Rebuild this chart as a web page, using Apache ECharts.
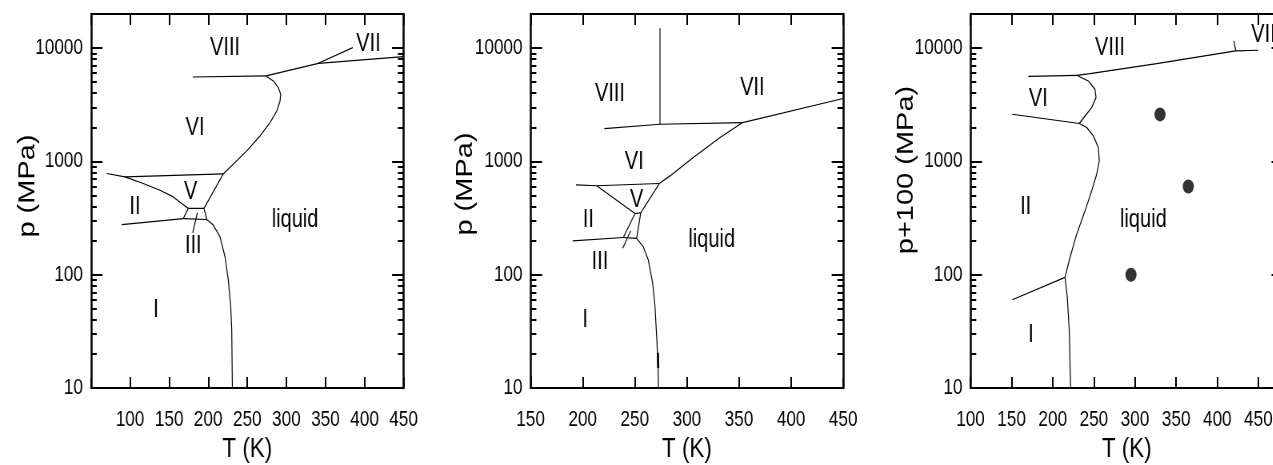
<!DOCTYPE html>
<html>
<head>
<meta charset="utf-8">
<script src="https://cdn.jsdelivr.net/npm/echarts@6/dist/echarts.min.js"></script>
<style>
html,body{margin:0;padding:0;background:#fff;width:1273px;height:465px;overflow:hidden}
#wrap{width:1273px;height:465px;overflow:hidden;position:relative;background:#fff}
#c{width:1591px;height:465px;transform:scaleX(0.8);transform-origin:0 0;position:absolute;left:0;top:0}
</style>
</head>
<body>
<div id="wrap"><div id="c"></div></div>
<script>
// ---------- tick labels ----------
const p1_xTicks = [100,150,200,250,300,350,400,450];
const p2_xTicks = [150,200,250,300,350,400,450];
const p3_xTicks = [100,150,200,250,300,350,400,450];
const yMajor = [10,100,1000,10000];
const yMinor = [20,30,40,50,60,70,80,90,200,300,400,500,600,700,800,900,2000,3000,4000,5000,6000,7000,8000,9000];

// ---------- panel 1 : phase boundaries [T (K), p (MPa)] ----------
const p1_I_liquid   = [[198.1,307],[206.5,274],[215.1,216],[221.5,144],[225.7,89.6],[228.8,52.1],[230.1,32.4],[230.9,10]];
const p1_II_I       = [[89.3,277],[168.1,313]];
const p1_I_III      = [[168.1,313],[198.1,307]];
const p1_II_III     = [[174.5,385],[168.1,313]];
const p1_III_V      = [[174.5,385],[194.6,385]];
const p1_III_liquid = [[194.6,385],[198.1,307]];
const p1_V_liquid   = [[194.6,385],[219.3,775]];
const p1_II_V       = [[93.5,730],[116.9,638],[138.3,557],[155.3,486],[166.1,425],[174.5,385]];
const p1_II_VI      = [[70.1,782],[93.5,730]];
const p1_V_VI       = [[93.5,730],[219.3,775]];
const p1_VI_liquid  = [[219.3,775],[249.3,1238],[266.3,1678],[279.1,2203],[287.7,2786],[291.9,3420],[292.8,3917],[289.7,4487],[283.3,5130],[274,5680]];
const p1_VI_VIII    = [[180.2,5560],[274,5680]];
const p1_VIII_liquid= [[274,5680],[340.9,7345]];
const p1_VII_VIII   = [[340.9,7345],[385,10100]];
const p1_VII_liquid = [[340.9,7345],[450,8410]];
const p1_III_pointer= [[186.1,352],[180.2,234]];
const p1_labels = [[221.5,9900,'VIII'],[405,10740,'VII'],[183.1,1950,'VI'],[177.6,538,'V'],[106.3,397,'II'],[180.9,179,'III'],[311.1,303,'liquid'],[133.2,48.7,'I']];

// ---------- panel 2 ----------
const p2_VII_VIII   = [[274.2,14960],[274.2,2128]];
const p2_VI_VIII    = [[220.7,1950],[274.2,2128]];
const p2_VI_VII     = [[274.2,2128],[353.5,2203]];
const p2_VII_liquid = [[353.5,2203],[450,3590]];
const p2_VI_liquid  = [[353.5,2203],[331.8,1625],[306.1,1081],[283.8,745],[273.5,638]];
const p2_V_VI       = [[213.4,610],[273.5,638]];
const p2_II_VI      = [[193.6,621],[213.4,610]];
const p2_II_V       = [[213.4,610],[250.2,347]];
const p2_V_liquid   = [[273.5,638],[255.7,352]];
const p2_V_III      = [[250.2,347],[255.7,352]];
const p2_III_liquid = [[255.7,352],[251.8,209]];
const p2_II_III     = [[250.2,347],[239,213]];
const p2_II_I       = [[190.4,199],[239,213]];
const p2_I_III      = [[239,213],[251.8,209]];
const p2_III_pointer= [[246.1,244],[238.4,171]];
const p2_I_liquid   = [[251.8,209],[258.2,176],[263,134.5],[267.2,83.8],[269.4,52.1],[271,28.3],[271.6,21.6],[272.6,12.6],[272.6,10]];
const p2_I_liquid_thick = [[272.2,20.5],[272.5,15]];
const p2_labels = [[226.2,3890,'VIII'],[362.8,4400,'VII'],[249.5,977,'VI'],[251.8,455,'V'],[205.4,303,'II'],[216.6,130,'III'],[323.8,202,'liquid'],[202.4,39.8,'I']];

// ---------- panel 3 : [T (K), p+100 (MPa)] ----------
const p3_I_II       = [[150.8,60.1],[214.9,94.6]];
const p3_I_liquid   = [[214.9,94.6],[217.7,63],[220.1,32],[221,16.3],[221.8,10]];
const p3_II_liquid  = [[214.9,94.6],[221,142],[229.1,228],[239.2,366],[247.3,549],[253.4,771],[256.6,1010],[255.4,1327],[249.3,1679],[241.3,1991],[232.3,2160]];
const p3_II_VI      = [[150.8,2606],[232.3,2160]];
const p3_VI_liquid  = [[232.3,2160],[239.2,2518],[247.3,2985],[252.6,3656],[251.3,4332],[243.2,5130],[229.1,5754]];
const p3_VI_VIII    = [[170.3,5637],[229.1,5754]];
const p3_VIII_liquid= [[229.1,5754],[245.3,5957],[326.4,7295],[422.4,9445]];
const p3_VII_liquid = [[422.4,9445],[449.9,9570]];
const p3_VII_VIII   = [[422.4,9445],[420.3,11560]];
const p3_points     = [[295.1,100],[330.4,2600],[364.8,600]];
const p3_labels = [[269.6,10000,'VIII'],[456.2,13150,'VII'],[182.4,3516,'VI'],[167.1,397,'II'],[310.1,303,'liquid'],[173.5,29.3,'I']];

// ---------- layout ----------
const S = 0.8;                      // horizontal squeeze of the picture
const FONT = "'Liberation Sans', Arial, Helvetica, sans-serif";
const gridLeft = [91/S, 530.6/S, 970.5/S];
const gridW = 312.6/S;
const xMin = [50,150,100], xMax = [450,450,480];
const xTicks = [p1_xTicks, p2_xTicks, p3_xTicks];
const yNames = ['p (MPa)','p (MPa)','p+100 (MPa)'];
const yNameGap = [64,67,66];
const yNameShift = [30,34,62];

const panelLines = [
  [p1_I_liquid,p1_II_I,p1_I_III,p1_II_III,p1_III_V,p1_III_liquid,p1_V_liquid,p1_II_V,p1_II_VI,p1_V_VI,p1_VI_liquid,p1_VI_VIII,p1_VIII_liquid,p1_VII_VIII,p1_VII_liquid,p1_III_pointer],
  [p2_VII_VIII,p2_VI_VIII,p2_VI_VII,p2_VII_liquid,p2_VI_liquid,p2_V_VI,p2_II_VI,p2_II_V,p2_V_liquid,p2_V_III,p2_III_liquid,p2_II_III,p2_II_I,p2_I_III,p2_III_pointer,p2_I_liquid],
  [p3_I_II,p3_I_liquid,p3_II_liquid,p3_II_VI,p3_VI_liquid,p3_VI_VIII,p3_VIII_liquid,p3_VII_liquid,p3_VII_VIII]
];
const panelLabels = [p1_labels,p2_labels,p3_labels];

function xAxisOpt(i, pos){
  const labelSet = new Set(xTicks[i]);
  return {gridIndex:i, type:'value', position:pos, min:xMin[i], max:xMax[i], interval:50,
    splitLine:{show:false},
    axisLine:{show:true, onZero:false, lineStyle:{color:'#000', width:2}},
    axisTick:{show:true, inside:true, length:11, lineStyle:{color:'#000', width:2}},
    axisLabel:{show:pos==='bottom', color:'#000', fontSize:21.5, fontFamily:FONT, margin:21,
      formatter:v => labelSet.has(v) ? String(v) : ''},
    name: pos==='bottom' ? 'T (K)' : '', nameLocation:'middle', nameGap:47, nameMoveOverlap:false,
    nameTextStyle:{color:'#000', fontSize:28, fontFamily:FONT}};
}
function yAxisOpt(i, pos, isMinor){
  const o = {gridIndex:i, type:'log', logBase:10, min:10, max:20000, position:pos, splitLine:{show:false}};
  if (isMinor){
    o.axisLine = {show:false};
    o.axisTick = {show:true, inside:true, length:7.2, customValues:yMinor, lineStyle:{color:'#000', width:2}};
    o.axisLabel = {show:false};
  } else {
    o.axisLine = {show:true, onZero:false, lineStyle:{color:'#000', width:2.5}};
    o.axisTick = {show:true, inside:true, length:14.4, lineStyle:{color:'#000', width:2}};
    o.axisLabel = {show:pos==='left', customValues:yMajor, color:'#000', fontSize:21.5, fontFamily:FONT, margin:10,
      formatter:v => String(Math.round(v))};
    if (pos==='left'){
      o.name = yNames[i]; o.nameLocation = 'middle'; o.nameGap = yNameGap[i]; o.nameMoveOverlap = false;
      o.nameTextStyle = {color:'#000', fontSize:29, fontFamily:FONT, padding:[0,0,0,yNameShift[i]]};
    }
  }
  return o;
}

const grids=[], xAxes=[], yAxes=[], series=[];
for (let i=0;i<3;i++){
  grids.push({left:gridLeft[i], top:14, width:gridW, height:374, containLabel:false, outerBoundsMode:'none'});
  xAxes.push(xAxisOpt(i,'bottom'));
  xAxes.push(xAxisOpt(i,'top'));
  yAxes.push(yAxisOpt(i,'left',false));
  yAxes.push(yAxisOpt(i,'left',true));
  yAxes.push(yAxisOpt(i,'right',false));
  yAxes.push(yAxisOpt(i,'right',true));

  panelLines[i].forEach(d => series.push({type:'line', xAxisIndex:2*i, yAxisIndex:4*i, data:d,
    showSymbol:false, symbol:'none', silent:true, lineStyle:{color:'#000', width:1.2}}));
  const labs = panelLabels[i];
  series.push({type:'custom', xAxisIndex:2*i, yAxisIndex:4*i, silent:true, clip:false,
    data:labs.map(l => [l[0], l[1]]),
    renderItem:(params, api) => {
      const pt = api.coord([api.value(0), api.value(1)]);
      return {type:'text', x:pt[0], y:pt[1],
        style:{text:labs[params.dataIndex][2], fill:'#000', fontSize:25, fontFamily:FONT,
               align:'center', verticalAlign:'middle'}};
    }, z:5});
}
series.push({type:'line', xAxisIndex:2, yAxisIndex:4, data:p2_I_liquid_thick, showSymbol:false, symbol:'none',
  silent:true, lineStyle:{color:'#000', width:2.6}});
series.push({type:'scatter', xAxisIndex:4, yAxisIndex:8, data:p3_points, symbolSize:14,
  silent:true, itemStyle:{color:'#000'}});

const chart = echarts.init(document.getElementById('c'), null, {renderer:'canvas', width:1591, height:465});
chart.setOption({animation:false, grid:grids, xAxis:xAxes, yAxis:yAxes, series:series});
</script>
</body>
</html>
